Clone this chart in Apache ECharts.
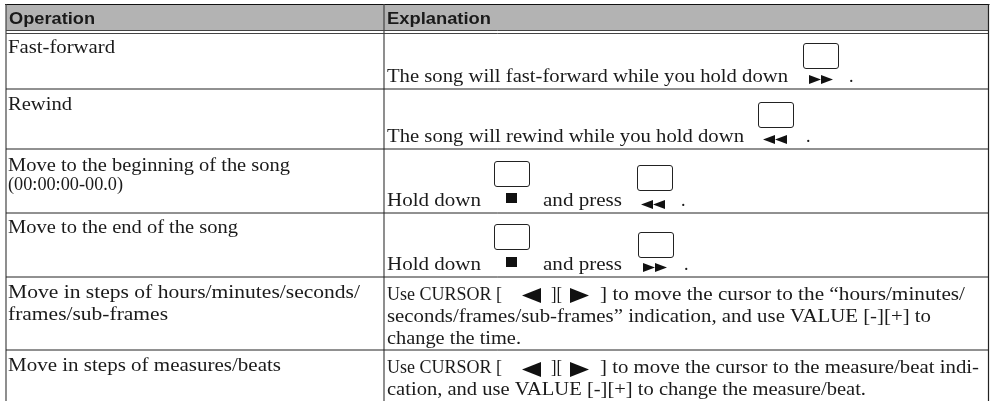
<!DOCTYPE html>
<html>
<head>
<meta charset="utf-8">
<style>
  html, body { margin: 0; padding: 0; background: #fff; }
  #chart { width: 991px; height: 401px; }
</style>
<script src="https://cdn.jsdelivr.net/npm/echarts@6/dist/echarts.min.js"></script>
</head>
<body>
<div id="chart"></div>
<script>
const headers = ['Operation', 'Explanation']

const operations = [
  ['Fast-forward'],
  ['Rewind'],
  ['Move to the beginning of the song', '(00:00:00-00.0)'],
  ['Move to the end of the song'],
  ['Move in steps of hours/minutes/seconds/', 'frames/sub-frames'],
  ['Move in steps of measures/beats']
]

const explanations = [
  ['The song will fast-forward while you hold down', '.'],
  ['The song will rewind while you hold down', '.'],
  ['Hold down', 'and press', '.'],
  ['Hold down', 'and press', '.'],
  ['Use CURSOR [', '][', '] to move the cursor to the \u201chours/minutes/', 'seconds/frames/sub-frames\u201d indication, and use VALUE [-][+] to', 'change the time.'],
  ['Use CURSOR [', '][', '] to move the cursor to the measure/beat indi-', 'cation, and use VALUE [-][+] to change the measure/beat.']
]

// layout, in page pixels
const rowLines = [89, 149, 213, 277, 350]
const leftX = 6, colX = 384, rightX = 988.5
const serif = '18px "Liberation Serif"'
const sans = 'bold 16px "Liberation Sans"'

const headerPlaces = [[9, 24, 86], [387, 24, 104]]
// [x, baseline, width]
const opPlaces = [
  [[8, 53, 107]],
  [[8, 110, 64]],
  [[8, 171, 282], [8, 190, 115]],
  [[8, 233, 230]],
  [[8, 298, 352], [8, 320, 160]],
  [[8, 371, 273]]
]
const expPlaces = [
  [[387, 82, 401], [849, 82]],
  [[387, 142, 357], [806, 142]],
  [[387, 206, 94], [543, 206, 79], [681, 206]],
  [[387, 270, 94], [543, 270, 79], [684, 270]],
  [[387, 300, 115], [551, 300, 11], [600, 300, 365], [387, 322, 544], [387, 344, 134]],
  [[387, 373, 115], [551, 373, 11], [600, 373, 379], [387, 395, 479]]
]
const keyBoxes = [
  [[803, 43]],
  [[758, 102]],
  [[494, 161], [637, 165]],
  [[494, 224], [638, 232]],
  [],
  []
]
const glyphs = [
  [['ff', 809, 75]],
  [['rew', 763, 135]],
  [['stop', 506, 193], ['rew', 641, 200]],
  [['stop', 506, 257], ['ff', 643, 263]],
  [['left', 522, 288], ['right', 570, 288]],
  [['left', 522, 362], ['right', 570, 362]]
]

const measure = document.createElement('canvas').getContext('2d')

const chart = echarts.init(document.getElementById('chart'))

function renderRow(params, api) {
  const pt = (x, y) => api.coord([x, y])
  const line = (x1, y1, x2, y2, color, width) => {
    const a = pt(x1, y1)
    const b = pt(x2, y2)
    return {
      type: 'line',
      shape: { x1: a[0], y1: a[1], x2: b[0], y2: b[1] },
      style: { stroke: color, lineWidth: width }
    }
  }
  const text = (str, place, font, size) => {
    const p = pt(place[0], place[1] - size * 0.75)
    measure.font = font
    const scaleX = place[2] ? place[2] / measure.measureText(str).width : 1
    return {
      type: 'text',
      x: p[0],
      y: p[1],
      scaleX: scaleX,
      style: { text: str, fill: '#1a1a1a', font: font }
    }
  }
  const poly = (points) => ({
    type: 'polygon',
    shape: { points: points.map(p => pt(p[0], p[1])) },
    style: { fill: '#111' }
  })
  const drawGlyph = (g) => {
    const [name, x, y] = g
    if (name === 'stop') return [poly([[x, y], [x + 11, y], [x + 11, y + 10], [x, y + 10]])]
    if (name === 'ff') {
      return [
        poly([[x, y], [x + 12, y + 4.5], [x, y + 9]]),
        poly([[x + 12, y], [x + 24, y + 4.5], [x + 12, y + 9]])
      ]
    }
    if (name === 'rew') {
      return [
        poly([[x + 12, y], [x, y + 4.5], [x + 12, y + 9]]),
        poly([[x + 24, y], [x + 12, y + 4.5], [x + 24, y + 9]])
      ]
    }
    if (name === 'left') return [poly([[x + 19, y], [x, y + 7.5], [x + 19, y + 15]])]
    return [poly([[x, y], [x + 19, y + 7.5], [x, y + 15]])]
  }

  const idx = params.dataIndex
  const children = []

  if (idx === 0) {
    // header band and frame
    const a = pt(leftX, 5)
    const b = pt(rightX, 30)
    children.push({
      type: 'rect',
      shape: { x: a[0], y: a[1], width: b[0] - a[0], height: b[1] - a[1] },
      style: { fill: '#b3b3b3' }
    })
    children.push(line(leftX - 1, 4.5, rightX + 1, 4.5, '#111', 1.2))
    children.push(line(leftX, 30.5, rightX, 30.5, '#444', 1))
    children.push(line(leftX, 33.5, rightX, 33.5, '#444', 1))
    children.push(line(leftX, 4, leftX, 401, '#444', 1.2))
    children.push(line(colX, 4, colX, 401, '#444', 1.2))
    children.push(line(rightX, 4, rightX, 401, '#222', 1.2))
    headers.forEach((s, i) => children.push(text(s, headerPlaces[i], sans, 16)))
  }

  const row = api.value(0)
  if (rowLines[row]) {
    children.push(line(leftX, rowLines[row], rightX, rowLines[row], '#222', 1))
  }
  operations[row].forEach((s, i) => children.push(text(s, opPlaces[row][i], serif, 18)))
  explanations[row].forEach((s, i) => children.push(text(s, expPlaces[row][i], serif, 18)))
  keyBoxes[row].forEach((k) => {
    const a = pt(k[0], k[1])
    children.push({
      type: 'rect',
      shape: { x: a[0] + 0.5, y: a[1] + 0.5, width: 35, height: 25, r: 2.5 },
      style: { fill: 'none', stroke: '#222', lineWidth: 1 }
    })
  })
  glyphs[row].forEach((g) => drawGlyph(g).forEach(c => children.push(c)))

  return { type: 'group', children }
}

chart.setOption({
  animation: false,
  grid: { left: 0, right: 0, top: 0, bottom: 0 },
  xAxis: { type: 'value', min: 0, max: 991, show: false },
  yAxis: { type: 'value', min: 0, max: 401, inverse: true, show: false },
  series: [
    {
      type: 'custom',
      clip: false,
      renderItem: renderRow,
      data: operations.map((_, i) => [i])
    }
  ]
})
</script>
</body>
</html>
